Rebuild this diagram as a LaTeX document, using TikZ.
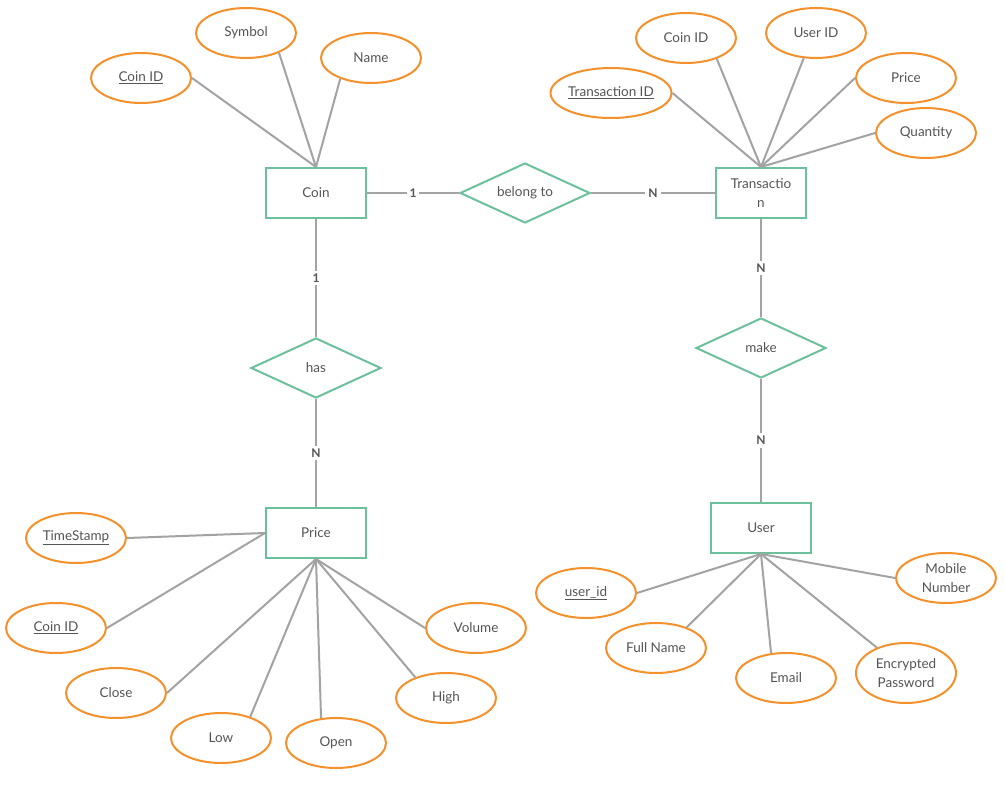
\documentclass[tikz,border=0pt]{standalone}
\usepackage{fontspec}
\setmainfont{Lato}
\usepackage{xcolor}
\usetikzlibrary{shapes.geometric}
\definecolor{attrorange}{HTML}{F4912C}
\definecolor{entgreen}{HTML}{6CC19C}
\definecolor{linkgray}{HTML}{A3A3A3}
\definecolor{txtgray}{HTML}{555555}
\tikzset{
  entitybox/.style={
    draw=entgreen, fill=white, line width=2pt, rectangle,
    minimum width=100pt, minimum height=50pt, inner sep=0pt,
    align=center, text=txtgray, font=\fontsize{13.5}{19}\selectfont
  },
  relbox/.style={
    draw=entgreen, fill=white, line width=2pt, diamond, aspect=2.1667,
    minimum width=130pt, minimum height=60pt, inner sep=0pt,
    text=txtgray, font=\fontsize{13.5}{16}\selectfont
  },
  attrib/.style={
    draw=attrorange, fill=white, line width=2pt, ellipse,
    minimum width=100pt, minimum height=50pt, inner sep=0pt,
    align=center, text=txtgray, font=\fontsize{13.5}{19}\selectfont
  },
  link/.style={draw=linkgray, line width=2pt},
  cardlabel/.style={
    fill=white, text=txtgray, inner sep=3pt,
    font=\bfseries\fontsize{12}{14}\selectfont
  }
}
\begin{document}
\begin{tikzpicture}[x=1pt,y=-1pt]
  \useasboundingbox[fill=white] (0,0) rectangle (1005,803);

  \node[entitybox] (coin) at (316,193) {Coin};
  \node[entitybox,minimum width=90pt] (trans) at (761,193) {Transactio\\n};
  \node[entitybox] (price) at (316,533) {Price};
  \node[entitybox] (user) at (761,528) {User};

  \node[relbox] (belong) at (525,193) {belong to};
  \node[relbox] (has) at (316,368) {has};
  \node[relbox] (make) at (761,348) {make};

  \node[attrib] (coinkey) at (141,78) {\underline{Coin ID}};
  \node[attrib] (symbol) at (246,33) {Symbol};
  \node[attrib] (cname) at (371,58) {Name};

  \node[attrib] (transkey) at (611,93) {\underline{Transaction ID}};
  \node[attrib] (tcoin) at (686,38) {Coin ID};
  \node[attrib] (tuser) at (816,33) {User ID};
  \node[attrib] (tprice) at (906,78) {Price};
  \node[attrib] (tqty) at (926,133) {Quantity};

  \node[attrib] (pstamp) at (76,538) {\underline{TimeStamp}};
  \node[attrib] (pcoin) at (56,628) {\underline{Coin ID}};
  \node[attrib] (pclose) at (116,693) {Close};
  \node[attrib] (plow) at (221,738) {Low};
  \node[attrib] (popen) at (336,743) {Open};
  \node[attrib] (phigh) at (446,698) {High};
  \node[attrib] (pvol) at (476,628) {Volume};

  \node[attrib] (ukey) at (586,593) {\underline{user\_id}};
  \node[attrib] (ufull) at (656,648) {Full Name};
  \node[attrib] (umail) at (786,678) {Email};
  \node[attrib,minimum height=60pt] (upass) at (906,673) {Encrypted\\Password};
  \node[attrib] (umobile) at (946,578) {Mobile\\Number};

  \draw[link] (coin.north) -- (coinkey.east);
  \draw[link] (coin.north) -- (symbol.-31);
  \draw[link] (coin.north) -- (cname.-146);

  \draw[link] (trans.north) -- (transkey.east);
  \draw[link] (trans.north) -- (tcoin.-34);
  \draw[link] (trans.north) -- (tuser.-116);
  \draw[link] (trans.north) -- (tprice.west);
  \draw[link] (trans.north) -- (tqty.west);

  \draw[link] (price.west) -- (pstamp.east);
  \draw[link] (price.west) -- (pcoin.east);
  \draw[link] (price.south) -- (pclose.east);
  \draw[link] (price.south) -- (plow.36);
  \draw[link] (price.south) -- (popen.121);
  \draw[link] (price.south) -- (phigh.146);
  \draw[link] (price.south) -- (pvol.west);

  \draw[link] (user.south) -- (ukey.east);
  \draw[link] (user.south) -- (ufull.34);
  \draw[link] (user.south) -- (umail.121);
  \draw[link] (user.south) -- (upass.139);
  \draw[link] (user.south) -- (umobile.west);

  \draw[link] (coin) -- node[cardlabel] {1} (belong);
  \draw[link] (belong) -- node[cardlabel] {N} (trans);
  \draw[link] (coin) -- node[cardlabel] {1} (has);
  \draw[link] (has) -- node[cardlabel] {N} (price);
  \draw[link] (trans) -- node[cardlabel] {N} (make);
  \draw[link] (make) -- node[cardlabel] {N} (user);
\end{tikzpicture}
\end{document}
